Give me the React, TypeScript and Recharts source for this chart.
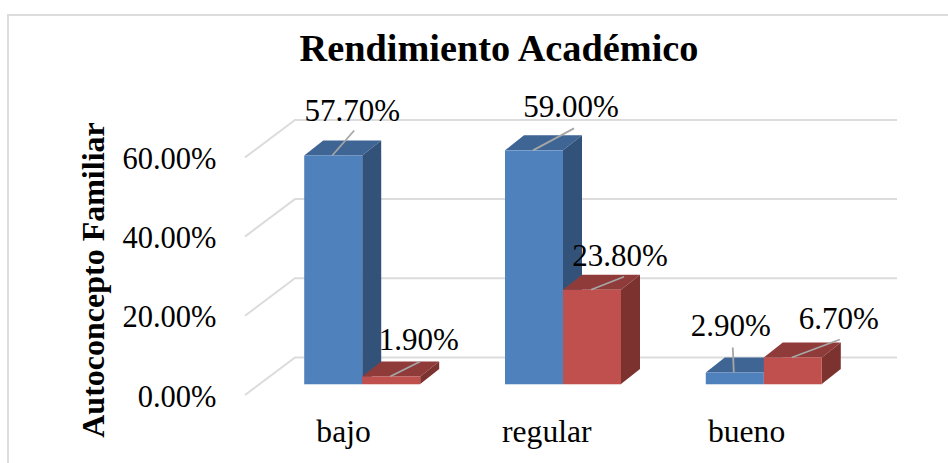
import React from "react";
import { BarChart, Bar, XAxis, YAxis, CartesianGrid, LabelList, Customized } from "recharts";

const categories = ["bajo", "regular", "bueno"];
const serieAzul = [57.7, 59.0, 2.9];
const serieRoja = [1.9, 23.8, 6.7];
const yTicks = [0, 20, 40, 60];
const titleText = "Rendimiento Académico";
const yAxisTitle = "Autoconcepto Familiar";

const rows = categories.map((name, i) => ({ name, azul: serieAzul[i], roja: serieRoja[i] }));

const FONT = "'Liberation Serif', 'Times New Roman', serif";
const DX = 19;
const DY = 15;

// Placement of the data labels relative to the bar's top-centre
const azulLabels = [
  { tx: 19, ty: -35, lx: 21, ly: -25 },
  { tx: 37, ty: -33, lx: 40, ly: -22 },
  { tx: -4, ty: -37, lx: -2, ly: -25 },
];
const rojaLabels = [
  { tx: 27.5, ty: -26, lx: 29, ly: -15 },
  { tx: 28, ty: -24, lx: 32, ly: -13 },
  { tx: 46, ty: -28.5, lx: 47, ly: -18 },
];
const xTickShift = [-18.5, -16, -17];

const make3D = (front: string, top: string, side: string) => (props: any) => {
  const { x, y, width, height } = props;
  const r = x + width;
  const b = y + height;
  return (
    <g>
      <polygon points={`${x},${y} ${x + DX},${y - DY} ${r + DX},${y - DY} ${r},${y}`} fill={top} />
      <polygon points={`${r},${y} ${r + DX},${y - DY} ${r + DX},${b - DY} ${r},${b}`} fill={side} />
      <rect x={x} y={y} width={width} height={height} fill={front} />
      <line x1={x} x2={r} y1={b} y2={b} stroke={front} strokeOpacity={0.55} strokeWidth={1} />
    </g>
  );
};

const makeLabel = (placement: { tx: number; ty: number; lx: number; ly: number }[]) => (props: any) => {
  const { x, y, width, value, index } = props;
  const p = placement[index];
  const cx = x + width / 2;
  return (
    <g>
      <line x1={cx - 1} y1={y} x2={cx + p.lx} y2={y + p.ly} stroke="#a6a6a6" strokeWidth={1.8} />
      <text x={cx + p.tx} y={y + p.ty} textAnchor="middle" fontFamily={FONT} fontSize={31} fill="#000">
        {`${Number(value).toFixed(2)}%`}
      </text>
    </g>
  );
};

const GridLine3D = (props: any) => {
  const { y1, x2 } = props;
  return (
    <path
      d={`M245 ${y1 + 11} L295 ${y1 - 26.5} L${x2 + 33} ${y1 - 26.5}`}
      fill="none"
      stroke="#dcdcdc"
      strokeWidth={2}
    />
  );
};

const YTick = (props: any) => {
  const { y, payload } = props;
  return (
    <text x={216.5} y={y + 22.5} textAnchor="end" fontFamily={FONT} fontSize={30.5} fill="#000">
      {`${Number(payload.value).toFixed(2)}%`}
    </text>
  );
};

const XTick = (props: any) => {
  const { x, y, payload, index } = props;
  return (
    <text x={x + xTickShift[index]} y={y + 50} textAnchor="middle" fontFamily={FONT} fontSize={31.6} fill="#000">
      {payload.value}
    </text>
  );
};

const Titles = () => (
  <g>
    <text x={499} y={60.5} textAnchor="middle" fontFamily={FONT} fontWeight="bold" fontSize={38.3} fill="#000">
      {titleText}
    </text>
    <text
      transform="translate(104 280) rotate(-90)"
      textAnchor="middle"
      fontFamily={FONT}
      fontWeight="bold"
      fontSize={32}
      fill="#000"
    >
      {yAxisTitle}
    </text>
  </g>
);

export default function App() {
  return (
    <div style={{ position: "absolute", left: 0, top: 0, width: 948, height: 463, background: "#fff", overflow: "hidden" }}>
      <div
        style={{
          position: "absolute",
          left: 7,
          top: 14,
          width: 960,
          height: 480,
          border: "2px solid #dcdcdc",
        }}
      />
      <BarChart
        width={948}
        height={463}
        data={rows}
        barCategoryGap="21.2%"
        barGap={0}
        margin={{ top: 146.4, right: 84, bottom: 0, left: 0 }}
        style={{ position: "absolute", left: 0, top: 0 }}
      >
        <CartesianGrid vertical={false} horizontal={GridLine3D} />
        <XAxis dataKey="name" height={79} axisLine={false} tickLine={false} tick={XTick} interval={0} />
        <YAxis width={261.65} domain={[0, 60]} ticks={yTicks} axisLine={false} tickLine={false} tick={YTick} />
        <Bar dataKey="azul" isAnimationActive={false} shape={make3D("#4f81bd", "#3e6594", "#335279")}>
          <LabelList dataKey="azul" content={makeLabel(azulLabels)} />
        </Bar>
        <Bar dataKey="roja" isAnimationActive={false} shape={make3D("#c0504d", "#8f3b39", "#7c322f")}>
          <LabelList dataKey="roja" content={makeLabel(rojaLabels)} />
        </Bar>
        <Customized component={Titles} />
      </BarChart>
    </div>
  );
}
